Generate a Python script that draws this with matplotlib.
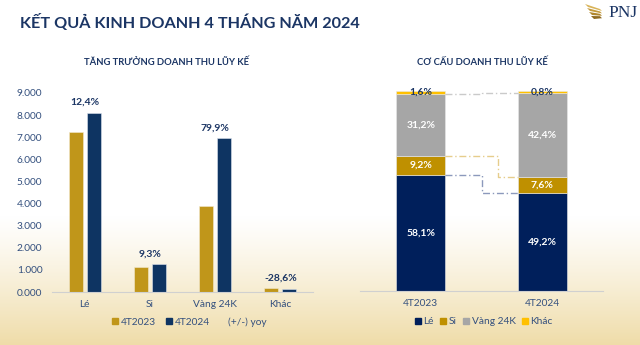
import numpy as np
import matplotlib.pyplot as plt
from matplotlib.patches import Patch, Polygon
from matplotlib.lines import Line2D

# ---------------- data ----------------
categories = ["Lé", "Si", "Vàng 24K", "Khác"]
rev_2023 = [7222, 1144, 3875, 181]
rev_2024 = [8118, 1250, 6971, 130]
yoy_labels = ["12,4%", "9,3%", "79,9%", "-28,6%"]
y_ticks = [0, 1000, 2000, 3000, 4000, 5000, 6000, 7000, 8000, 9000]

periods = ["4T2023", "4T2024"]
share_le = [58.1, 49.2]
share_si = [9.2, 7.6]
share_vang = [31.2, 42.4]
share_khac = [1.6, 0.8]
share_names = ["Lé", "Si", "Vàng 24K", "Khác"]

# ---------------- style ----------------
FONT = ["Lato", "DejaVu Sans"]
plt.rcParams["font.family"] = FONT
NAVY_T = "#1B3564"
TICK_C = "#34507E"
GOLD = "#C0961A"
NAVY = "#0E3462"
R_NAVY = "#001F5B"
R_GOLD = "#BF9000"
R_GREY = "#A6A6A6"
R_YEL = "#FFC000"

fig = plt.figure(figsize=(6.4, 3.45), dpi=100)

# background gradient
bg = fig.add_axes([0, 0, 1, 1], zorder=-10)
h = 345
yy = np.arange(h)
t = np.clip((yy - 215) / (h - 215), 0, 1) ** 1.2
top = np.array([1.0, 1.0, 1.0])
bot = np.array([0xEF, 0xDC, 0xA8]) / 255
grad = top[None, :] * (1 - t[:, None]) + bot[None, :] * t[:, None]
img = np.repeat(grad[:, None, :], 4, axis=1)
bg.imshow(img, aspect="auto", extent=[0, 1, 0, 1])
bg.set_axis_off()

# title & subtitles
fig.text(20 / 640, 1 - 23 / 345, "KẾT QUẢ KINH DOANH 4 THÁNG NĂM 2024",
         fontsize=11.7, fontweight="bold", color=NAVY_T, va="center", ha="left")
fig.text(166 / 640, 1 - 62 / 345, "TĂNG TRƯỞNG DOANH THU LŨY KẾ",
         fontsize=6.8, fontweight="bold", color=NAVY_T, va="center", ha="center")
fig.text(482 / 640, 1 - 62 / 345, "CƠ CẤU DOANH THU LŨY KẾ",
         fontsize=6.8, fontweight="bold", color=NAVY_T, va="center", ha="center")

# PNJ logo
fig.text(638 / 640, 1 - 13 / 345, "PNJ", fontsize=12.5, color=NAVY_T,
         family=["Liberation Serif", "DejaVu Serif"], va="center", ha="right")
for i, (dx, dy) in enumerate([(0, 0), (2, 4), (4, 8), (6, 12)]):
    pts = np.array([[585 + dx, 4 + dy], [600, 9 + dy * 0.6], [602, 11 + dy * 0.6],
                    [588 + dx, 7 + dy]])
    pts_fig = np.column_stack([pts[:, 0] / 640, 1 - pts[:, 1] / 345])
    fig.add_artist(Polygon(pts_fig, closed=True, transform=fig.transFigure,
                           color=["#D9B45A", "#C49A3A", "#B0862C", "#8F6A20"][i], lw=0))

# ---------------- left chart ----------------
ax1 = fig.add_axes([52 / 640, 1 - 292 / 345, 261 / 640, 199 / 345])
ax1.set_facecolor("none")
x = np.arange(len(categories))
w = 0.215
off = 0.137
ax1.bar(x - off, rev_2023, w, color=GOLD, edgecolor="#F3E9CF", lw=0.4, label="4T2023")
ax1.bar(x + off, rev_2024, w, color=NAVY, edgecolor="#DDE3EE", lw=0.4, label="4T2024")
for i, lab in enumerate(yoy_labels):
    ax1.annotate(lab, (x[i], max(rev_2023[i], rev_2024[i])), xytext=(0, 4),
                 textcoords="offset points", ha="center", va="bottom",
                 fontsize=7.5, fontweight="bold", color=NAVY_T)
ax1.set_xlim(-0.5, len(categories) - 0.5)
ax1.set_ylim(0, 9000)
ax1.set_yticks(y_ticks)
ax1.set_yticklabels([f"{v / 1000:.3f}" for v in y_ticks])
ax1.set_xticks(x)
ax1.set_xticklabels(categories)
ax1.tick_params(axis="both", length=0, labelsize=7.3, labelcolor=TICK_C)
ax1.tick_params(axis="y", pad=7)
ax1.tick_params(axis="x", pad=6)
for s in ["top", "right", "left"]:
    ax1.spines[s].set_visible(False)
ax1.spines["bottom"].set_color("#D0D0D0")
ax1.spines["bottom"].set_linewidth(0.8)

handles = [Patch(color=GOLD), Patch(color=NAVY), Line2D([], [], color="none")]
fig.legend(handles, ["4T2023", "4T2024", "(+/-) yoy"], loc="center left",
           bbox_to_anchor=(112 / 640, 1 - 322 / 345), ncol=3, frameon=False,
           fontsize=7.3, handlelength=0.6, handleheight=0.6, handletextpad=0.25,
           columnspacing=1.0, labelcolor=TICK_C, borderaxespad=0, borderpad=0)

# ---------------- right chart ----------------
ax2 = fig.add_axes([360 / 640, 1 - 291 / 345, 243 / 640, 200 / 345])
ax2.set_facecolor("none")
xp = np.arange(len(periods))
bw = 0.4
series = [share_le, share_si, share_vang, share_khac]
colors = [R_NAVY, R_GOLD, R_GREY, R_YEL]
bottom = np.zeros(len(periods))
for vals, c, name in zip(series, colors, share_names):
    ax2.bar(xp, vals, bw, bottom=bottom, color=c, edgecolor="#E8E8E8", lw=0.4, label=name)
    for j, v in enumerate(vals):
        tc = NAVY_T if name == "Khác" else "white"
        ax2.text(xp[j], bottom[j] + v / 2, f"{v:.1f}%".replace(".", ","),
                 ha="center", va="center", fontsize=7.5, fontweight="bold", color=tc)
    bottom = bottom + np.array(vals)

# connector lines
cum = np.cumsum(np.array(series), axis=0)
conn_colors = ["#8C99BC", "#E6CD8C", "#CACACA"]
step_x = [0.5, 0.635, 0.5]
for k in range(3):
    y0, y1 = cum[k][0], cum[k][1]
    sx = step_x[k]
    ax2.plot([bw / 2, sx, sx, 1 - bw / 2], [y0, y0, y1, y1], color=conn_colors[k],
             lw=1.0, ls=(0, (5, 2, 1, 2)), zorder=1)

ax2.set_xlim(-0.5, 1.5)
ax2.set_ylim(0, 100)
ax2.set_xticks(xp)
ax2.set_xticklabels(periods)
ax2.set_yticks([])
ax2.tick_params(axis="x", length=0, labelsize=7.3, labelcolor=TICK_C, pad=6)
for s in ["top", "right", "left"]:
    ax2.spines[s].set_visible(False)
ax2.spines["bottom"].set_color("#D0D0D0")
ax2.spines["bottom"].set_linewidth(0.8)

handles2 = [Patch(color=c) for c in colors]
fig.legend(handles2, share_names, loc="center left",
           bbox_to_anchor=(415 / 640, 1 - 322 / 345), ncol=4, frameon=False,
           fontsize=7.3, handlelength=0.6, handleheight=0.6, handletextpad=0.25,
           columnspacing=0.6, labelcolor=TICK_C, borderaxespad=0, borderpad=0)

fig.savefig("out.png", dpi=100)
